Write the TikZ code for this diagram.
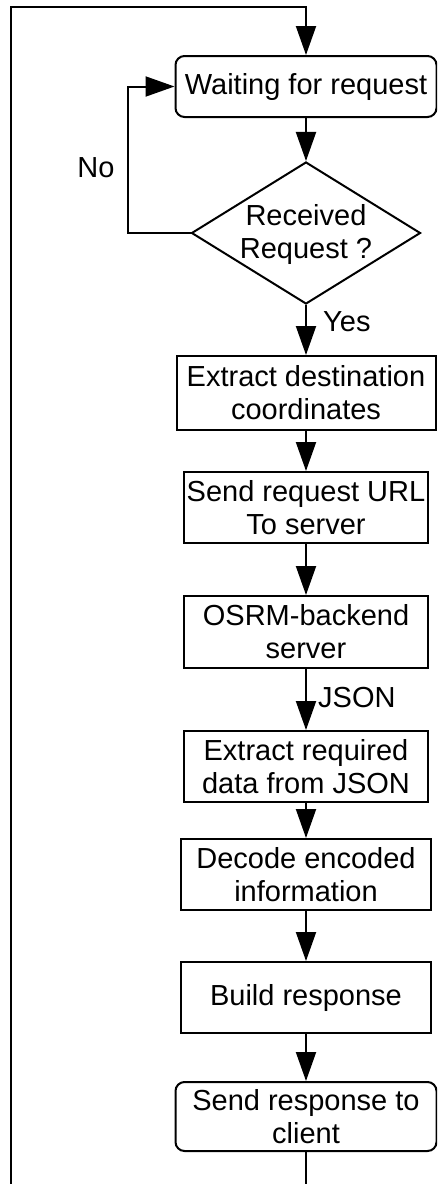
\documentclass[tikz,border=0pt]{standalone}
\usepackage{fontspec}
\setmainfont{Liberation Sans}
\usetikzlibrary{shapes.geometric,arrows.meta}
\begin{document}
\begin{tikzpicture}[x=1pt,y=-1pt,
  every node/.style={font=\fontsize{29}{33}\selectfont},
  box/.style={draw, line width=2pt, fill=white, align=center, inner sep=0pt},
  rbox/.style={box, rounded corners=9pt},
  lbl/.style={inner sep=0pt},
  arr/.style={line width=2pt, -{Triangle[length=29pt,width=20pt]}},
  ln/.style={line width=2pt}]
\clip (0,0) rectangle (437,1184);
\fill[white] (0,0) rectangle (437,1184);
\node[rbox, minimum width=261pt, minimum height=61pt] (wait) at (306,86.5) {Waiting for request};
\node[draw, line width=2pt, diamond, minimum width=229pt, minimum height=142pt, inner sep=0pt] (dia) at (306,233) {};
\node[lbl, align=center] (diat) at (306,234) {Received\\Request ?};
\node[box, minimum width=259pt, minimum height=74pt] (ext) at (306,393) {Extract destination\\coordinates};
\node[box, minimum width=244pt, minimum height=71pt] (send) at (306,507.5) {Send request URL\\To server};
\node[box, minimum width=244pt, minimum height=72pt] (osrm) at (306,632) {OSRM-backend\\server};
\node[box, minimum width=244pt, minimum height=71pt] (req) at (306,766.5) {Extract required\\data from JSON};
\node[box, minimum width=250pt, minimum height=71pt] (dec) at (306,874.5) {Decode encoded\\information};
\node[box, minimum width=250pt, minimum height=71pt] (build) at (306,997.5) {Build response};
\node[rbox, minimum width=261pt, minimum height=69pt] (resp) at (306,1116.5) {Send response to\\client};
\node[lbl] (no) at (96,168) {No};
\node[lbl, anchor=west] (yes) at (323,322) {Yes};
\node[lbl, anchor=west] (json) at (318,698) {JSON};
\coordinate (b1) at (306,1200);
\coordinate (b2) at (11,1200);
\coordinate (t1) at (11,7);
\coordinate (t2) at (306,7);
\coordinate (nl) at (128,86.5);
\draw[arr] (wait) -- (dia);
\draw[arr] (dia.west) -| (nl) -- (wait.west);
\draw[arr] (dia) -- (ext);
\draw[arr] (ext) -- (send);
\draw[arr] (send) -- (osrm);
\draw[arr] (osrm) -- (req);
\draw[arr] (req) -- (dec);
\draw[arr] (dec) -- (build);
\draw[arr] (build) -- (resp);
\draw[arr, line join=miter] (resp.south) -- (b1) -- (b2) -- (t1) -- (t2) -- (wait.north);
\end{tikzpicture}
\end{document}
